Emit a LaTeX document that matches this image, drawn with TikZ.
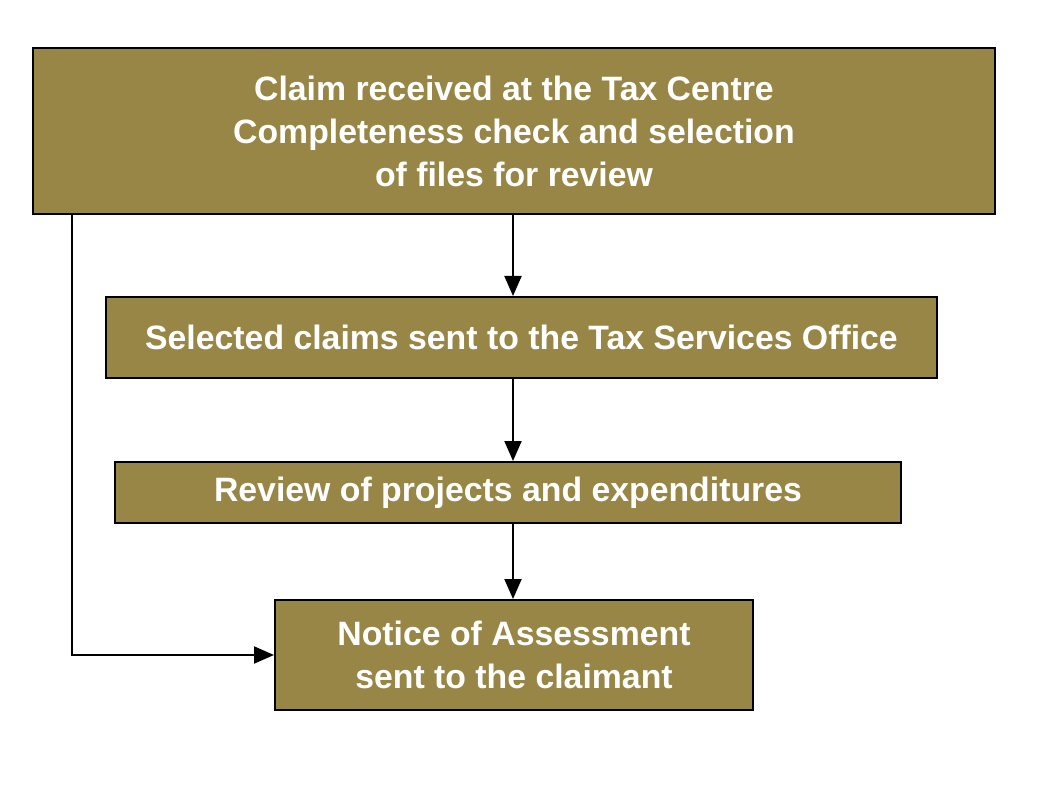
\documentclass[tikz,border=0pt]{standalone}
\usepackage{fontspec}
\setmainfont{Liberation Sans}
\usetikzlibrary{arrows.meta}
\definecolor{boxfill}{RGB}{152,134,70}
\begin{document}
\begin{tikzpicture}[x=1pt,y=-1pt,
  stepbox/.style={draw=black,line width=2pt,fill=boxfill,text=white,
    font=\fontsize{33.8}{43}\selectfont\bfseries,align=center,inner sep=0pt},
  conn/.style={line width=2pt,-{Triangle[width=17pt,length=20pt]}}]
\useasboundingbox (0,0) rectangle (1042,810);
\node[stepbox,minimum width=962pt,minimum height=166pt] (b1) at (514,131)
  {Claim received at the Tax Centre\\Completeness check and selection\\of files for review};
\node[stepbox,minimum width=831pt,minimum height=81pt] (b2) at (521.5,337.5)
  {Selected claims sent to the Tax Services Office};
\node[stepbox,minimum width=786pt,minimum height=61pt] (b3) at (508,492.5)
  {Review of projects and expenditures};
\node[stepbox,minimum width=478pt,minimum height=110pt] (b4) at (514,655)
  {Notice of Assessment\\sent to the claimant};
\coordinate (ax) at (513,0);
\coordinate (lx) at (72,0);
\draw[conn] (ax |- b1.south) -- (ax |- b2.north);
\draw[conn] (ax |- b2.south) -- (ax |- b3.north);
\draw[conn] (ax |- b3.south) -- (ax |- b4.north);
\draw[conn] (lx |- b1.south) |- (b4.west);
\end{tikzpicture}
\end{document}
